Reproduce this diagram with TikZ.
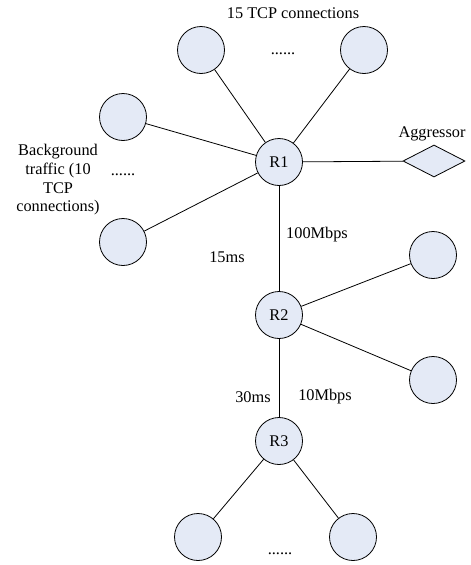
\documentclass[tikz,border=0pt]{standalone}
\usepackage{fontspec}
\setmainfont{Liberation Serif}
\usetikzlibrary{shapes.geometric}
\definecolor{hostfill}{RGB}{228,234,246}
\tikzset{
  host/.style={circle, draw=black, fill=hostfill, line width=0.8pt, minimum size=47pt, inner sep=0pt, font=\fontsize{16.3}{19}\selectfont},
  attacker/.style={diamond, draw=black, fill=hostfill, line width=0.8pt, minimum width=62pt, minimum height=32pt, inner sep=0pt, aspect=2},
  link/.style={draw=black, line width=0.8pt},
  lbl/.style={font=\fontsize{16.3}{19}\selectfont, inner sep=0pt},
  dots/.style={font=\fontsize{16.3}{19}\selectfont, inner sep=0pt}
}
\begin{document}
\begin{tikzpicture}[x=1pt, y=-1pt]
\useasboundingbox (0,0) rectangle (471,565);
% routers
\node[host] (r1) at (279,162) {R1};
\node[host] (r2) at (279,315) {R2};
\node[host] (r3) at (279,441) {R3};
% 15 TCP sources above R1
\node[host] (t1) at (201,50) {};
\node[host] (t2) at (364,50) {};
% background traffic hosts
\node[host] (b1) at (123,117) {};
\node[host] (b2) at (123,242) {};
% aggressor
\node[attacker] (ag) at (434,161) {};
% hosts on R2
\node[host] (h1) at (433,255) {};
\node[host] (h2) at (433,380) {};
% receivers below R3
\node[host] (d1) at (198,537) {};
\node[host] (d2) at (353,537) {};
% links
\draw[link] (t1) -- (r1);
\draw[link] (t2) -- (r1);
\draw[link] (b1) -- (r1);
\draw[link] (b2) -- (r1);
\draw[link] (r1) -- (ag);
\draw[link] (r1) -- (r2);
\draw[link] (r2) -- (h1);
\draw[link] (r2) -- (h2);
\draw[link] (r2) -- (r3);
\draw[link] (r3) -- (d1);
\draw[link] (r3) -- (d2);
% labels
\node[lbl] (ltcp) at (293,13) {15 TCP connections};
\node[dots] (dtop) at (283,54) {......};
\node[lbl, align=center, font=\fontsize{16.3}{18.7}\selectfont] (lbg) at (58,180) {Background\\traffic (10\\TCP\\connections)};
\node[dots] (dleft) at (123,175) {......};
\node[lbl] (lag) at (432,134) {Aggressor};
\node[lbl] (l100) at (317,235) {100Mbps};
\node[lbl] (l15) at (227,257) {15ms};
\node[lbl] (l30) at (253,397) {30ms};
\node[lbl] (l10) at (325,397) {10Mbps};
\node[dots] (dbot) at (280,554) {......};
\end{tikzpicture}
\end{document}
